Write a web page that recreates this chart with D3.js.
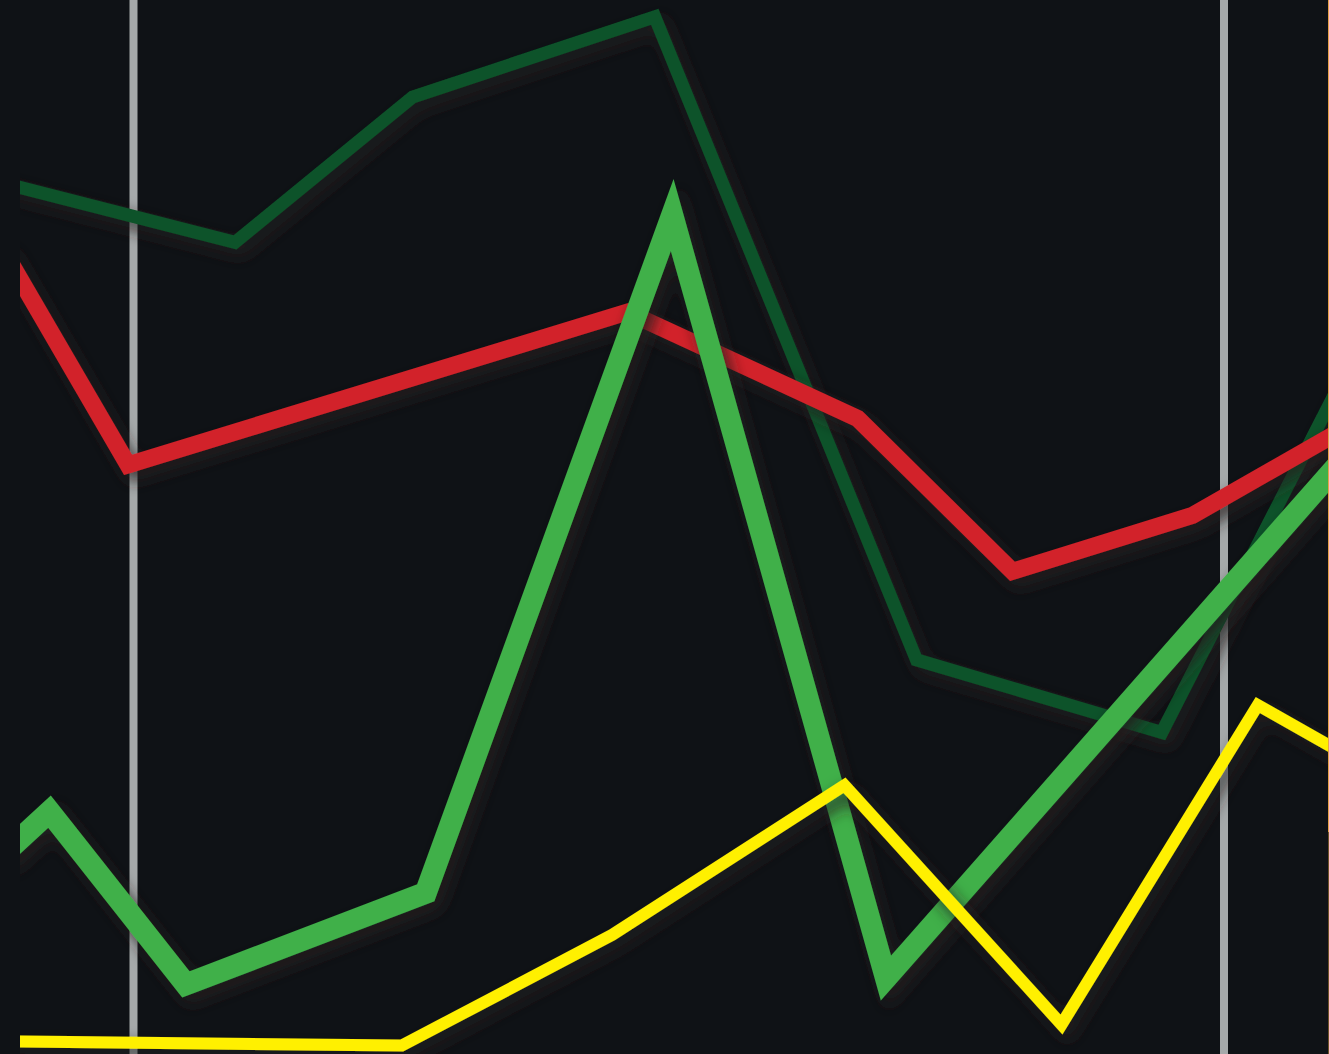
<!DOCTYPE html>
<html>
<head>
<meta charset="utf-8">
<script src="https://cdn.jsdelivr.net/npm/d3@7"></script>
<style>
  html, body { margin: 0; padding: 0; background: #0f1216; overflow: hidden; }
</style>
</head>
<body>
<div class="chart"></div>
<script>
// series values (x in grid units, y in 0-100)
const gridX = [0, 10];

const darkGreenX = [-1.41, 0.93, 2.56, 4.78, 7.18, 9.43, 11.25];
const darkGreenY = [83.2, 77.0, 90.8, 98.4, 37.4, 30.5, 67.4];

const redX = [-1.22, -0.05, 4.53, 6.64, 8.06, 9.71, 11.25];
const redY = [76.7, 55.9, 70.4, 60.3, 45.8, 51.1, 60.2];

const lightGreenX = [-1.22, -0.77, 0.48, 2.68, 4.94, 6.90, 11.25];
const lightGreenY = [18.7, 23.0, 6.6, 15.3, 79.6, 7.2, 58.3];

const yellowX = [-1.22, 2.46, 4.39, 6.52, 8.51, 10.31, 11.25];
const yellowY = [1.2, 0.8, 11.3, 25.5, 2.8, 33.1, 27.6];

const series = [
  { name: 'darkGreen', xs: darkGreenX, ys: darkGreenY, color: '#0b5229', width: 13 },
  { name: 'red', xs: redX, ys: redY, color: '#d2232a', width: 17 },
  { name: 'lightGreen', xs: lightGreenX, ys: lightGreenY, color: '#40b04a', width: 22 },
  { name: 'yellow', xs: yellowX, ys: yellowY, color: '#fff000', width: 12 }
];

const width = 1329;
const height = 1054;
const left = 20;
const right = 1328;

const svg = d3.select('.chart')
  .append('svg')
  .attr('width', width)
  .attr('height', height)
  .style('display', 'block');

svg.append('rect')
  .attr('width', width)
  .attr('height', height)
  .attr('fill', '#0f1216');

const xScale = d3.scaleLinear().domain([0, 10]).range([133.5, 1224]);
const yScale = d3.scaleLinear().domain([0, 100]).range([height, 0]);

const defs = svg.append('defs');
defs.append('clipPath')
  .attr('id', 'plot-clip')
  .append('rect')
  .attr('x', left)
  .attr('y', 0)
  .attr('width', right - left)
  .attr('height', height);

const shadow = defs.append('filter')
  .attr('id', 'shadow')
  .attr('filterUnits', 'userSpaceOnUse')
  .attr('x', -100).attr('y', -100)
  .attr('width', width + 200).attr('height', height + 200);
shadow.append('feDropShadow')
  .attr('dx', 6)
  .attr('dy', 8)
  .attr('stdDeviation', 8)
  .attr('flood-color', '#262123')
  .attr('flood-opacity', 0.85);

const plot = svg.append('g').attr('clip-path', 'url(#plot-clip)');

// vertical grid lines
plot.selectAll('.grid')
  .data(gridX)
  .enter()
  .append('line')
  .attr('class', 'grid')
  .attr('x1', d => xScale(d))
  .attr('x2', d => xScale(d))
  .attr('y1', 0)
  .attr('y2', height)
  .attr('stroke', '#a5a9aa')
  .attr('stroke-width', 8);

const line = d3.line()
  .x(d => xScale(d[0]))
  .y(d => yScale(d[1]));

plot.selectAll('.series')
  .data(series)
  .enter()
  .append('path')
  .attr('class', 'series')
  .attr('d', s => line(d3.zip(s.xs, s.ys)))
  .attr('fill', 'none')
  .attr('stroke', s => s.color)
  .attr('stroke-width', s => s.width)
  .attr('stroke-linejoin', 'miter')
  .attr('stroke-miterlimit', 10)
  .attr('filter', 'url(#shadow)');

// thin border at the right edge
svg.append('line')
  .attr('x1', 1328.5).attr('x2', 1328.5)
  .attr('y1', 0).attr('y2', 832)
  .attr('stroke', '#e8a24a')
  .attr('stroke-width', 1);
svg.append('line')
  .attr('x1', 1328.5).attr('x2', 1328.5)
  .attr('y1', 832).attr('y2', height)
  .attr('stroke', '#6e5228')
  .attr('stroke-width', 1);
</script>
</body>
</html>
